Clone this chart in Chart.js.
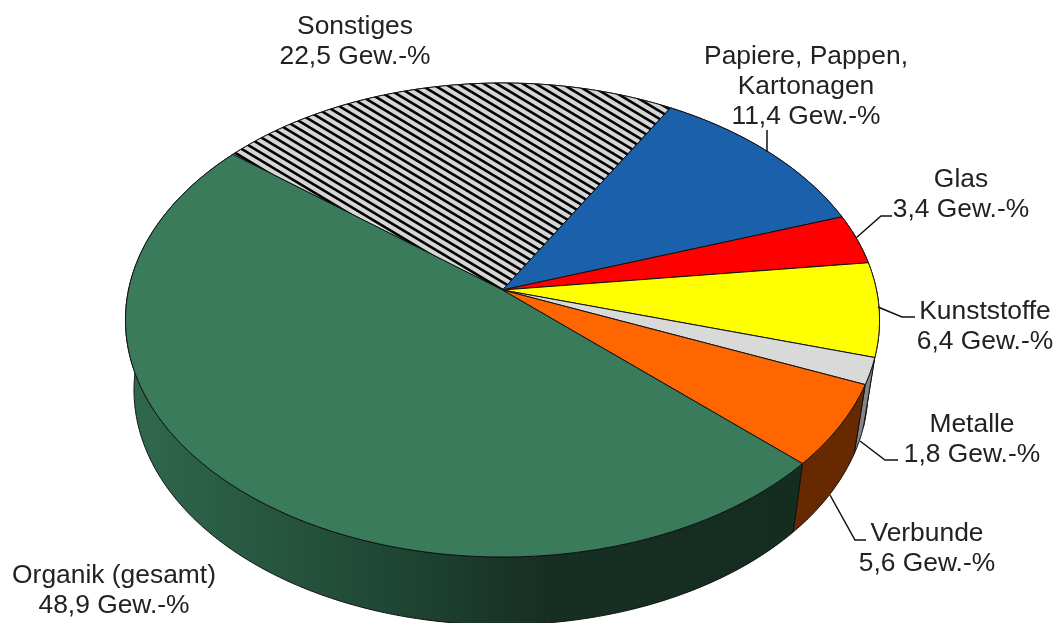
<!DOCTYPE html>
<html lang="de">
<head>
    <meta charset="UTF-8">
    <title>Zusammensetzung</title>
    <script src="https://cdn.jsdelivr.net/npm/chart.js@4.4.1/dist/chart.umd.min.js"></script>
    <style>
        body, html { margin: 0; padding: 0; background: #fff; }
        canvas { display: block; filter: blur(0.6px); }
    </style>
</head>
<body>
    <canvas id="pie" width="1055" height="623"></canvas>

    <script>
        const categories = ['Sonstiges', 'Papiere, Pappen,|Kartonagen', 'Glas', 'Kunststoffe', 'Metalle', 'Verbunde', 'Organik (gesamt)'];
        const shares = [22.5, 11.4, 3.4, 6.4, 1.8, 5.6, 48.9];
        const faceColors = ['#d6d6d6', '#1a60ab', '#ff0000', '#ffff00', '#d9d9d9', '#ff6600', '#397b5b'];
        const wallColors = ['#6a6a6a', '#0d3055', '#800000', '#808000', '#858585', '#662900', '#1d4231'];

        // projection of the unit disc: top face and bottom face of the pie
        const topFace = { x: 502.5, y: 290, a: 374, b: 233.2, p: 0.1266 };
        const bottomFace = { x: 501, y: 360, a: 364, b: 231, p: 0.1277 };

        function project(face, angle) {
            const w = 1 - face.p * Math.sin(angle);
            return [face.x + face.a * Math.cos(angle) / w, face.y + face.b * Math.sin(angle) / w];
        }

        function arcPoints(face, start, end) {
            const pts = [];
            const steps = Math.max(4, Math.ceil((end - start) / 0.01));
            for (let i = 0; i <= steps; i++) {
                pts.push(project(face, start + (end - start) * i / steps));
            }
            return pts;
        }

        function tracePath(ctx, pts) {
            ctx.beginPath();
            pts.forEach((pt, i) => i ? ctx.lineTo(pt[0], pt[1]) : ctx.moveTo(pt[0], pt[1]));
            ctx.closePath();
        }

        function drawWall(ctx, arc, i) {
            const pts = arcPoints(topFace, arc.startAngle, arc.endAngle)
                .concat(arcPoints(bottomFace, arc.startAngle, arc.endAngle).reverse());
            tracePath(ctx, pts);
            if (i === 6) {
                // Organik wall gets darker to the right
                const grad = ctx.createLinearGradient(125, 0, 800, 0);
                grad.addColorStop(0, '#30694e');
                grad.addColorStop(0.4, '#1f4634');
                grad.addColorStop(0.62, '#172f23');
                grad.addColorStop(1, '#152c20');
                ctx.fillStyle = grad;
            } else {
                ctx.fillStyle = wallColors[i];
            }
            ctx.fill();
            ctx.strokeStyle = '#111';
            ctx.lineWidth = 1;
            ctx.stroke();
        }

        function drawFace(ctx, arc, i) {
            const pts = [[topFace.x, topFace.y]].concat(arcPoints(topFace, arc.startAngle, arc.endAngle));
            tracePath(ctx, pts);
            ctx.fillStyle = faceColors[i];
            ctx.fill();
            if (i === 0) {
                // Sonstiges is hatched
                ctx.save();
                ctx.clip();
                ctx.strokeStyle = '#000';
                ctx.lineWidth = 2.6;
                for (let y = -500; y < 400; y += 7.8) {
                    ctx.beginPath();
                    ctx.moveTo(200, y);
                    ctx.lineTo(700, y + 300);
                    ctx.stroke();
                }
                ctx.restore();
                tracePath(ctx, pts);
            }
            ctx.strokeStyle = '#111';
            ctx.lineWidth = 1;
            ctx.stroke();
        }

        const labelPlaces = [
            { x: 355, y: 26.5 },
            { x: 806, y: 56.5 },
            { x: 961, y: 179.5 },
            { x: 985, y: 311.5 },
            { x: 972, y: 424.5 },
            { x: 927, y: 533.5 },
            { x: 114, y: 575.5 }
        ];
        const leaders = [
            null,
            [[767, 130], [767, 152]],
            [[892, 216], [881, 216], [856, 238]],
            [[915, 317], [902, 317], [878, 307]],
            [[898, 460], [885, 460], [860, 441]],
            [[866, 540], [855, 540], [830, 495]],
            null
        ];

        function drawLabels(ctx) {
            ctx.font = '26.4px "Liberation Sans"';
            ctx.textAlign = 'center';
            ctx.textBaseline = 'middle';
            ctx.fillStyle = '#222';
            categories.forEach((name, i) => {
                const lines = name.split('|');
                lines.push(shares[i].toFixed(1).replace('.', ',') + ' Gew.-%');
                lines.forEach((line, n) => ctx.fillText(line, labelPlaces[i].x, labelPlaces[i].y + n * 30));
                if (leaders[i]) {
                    ctx.beginPath();
                    leaders[i].forEach((pt, k) => k ? ctx.lineTo(pt[0], pt[1]) : ctx.moveTo(pt[0], pt[1]));
                    ctx.strokeStyle = '#111';
                    ctx.lineWidth = 1.5;
                    ctx.stroke();
                }
            });
        }

        const perspectivePie = {
            id: 'perspectivePie',
            beforeDatasetsDraw(chart) {
                const ctx = chart.ctx;
                const arcs = chart.getDatasetMeta(0).data;
                ctx.save();
                arcs.forEach((arc, i) => drawWall(ctx, arc, i));
                arcs.forEach((arc, i) => drawFace(ctx, arc, i));
                drawLabels(ctx);
                ctx.restore();
                return false;
            }
        };

        new Chart(document.getElementById('pie').getContext('2d'), {
            type: 'pie',
            data: {
                labels: categories,
                datasets: [{ data: shares, backgroundColor: faceColors }]
            },
            options: {
                responsive: false,
                animation: false,
                rotation: -51.1,
                plugins: {
                    legend: { display: false },
                    tooltip: { enabled: false }
                }
            },
            plugins: [perspectivePie]
        });
    </script>
</body>
</html>
